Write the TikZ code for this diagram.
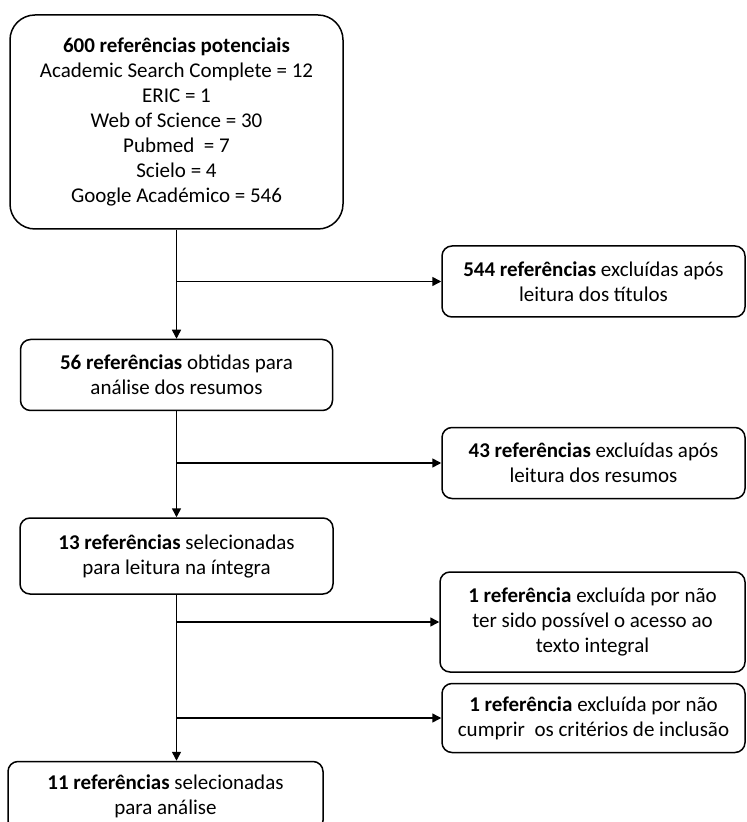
\documentclass[tikz,border=0pt]{standalone}
\usepackage{fontspec}
\setmainfont{Carlito}
\usetikzlibrary{arrows.meta,positioning}

\begin{document}
\begin{tikzpicture}[
    x=0.5pt, y=-0.5pt,
    box/.style={rectangle, draw, rounded corners=5pt, line width=0.75pt, align=center, inner sep=0pt, font=\fontsize{10.5}{12.5}\selectfont},
    flowarrow/.style={line width=0.75pt,-{Triangle[length=4.5pt,width=4.5pt]}}
]
\useasboundingbox (0,0) rectangle (747,822);
\fill[white] (0,0) rectangle (747,822);
\clip (0,0) rectangle (747,822);

% Identification
\node[box, rounded corners=12.5pt, minimum width=166.5pt, minimum height=107pt] (potenciais) at (176.5,122) {\textbf{600 referências potenciais}\\Academic Search Complete = 12\\ERIC = 1\\Web of Science = 30\\Pubmed\ \ = 7\\Scielo = 4\\Google Académico = 546};

% Screening
\node[box, below=54.5pt of potenciais, minimum width=156pt, minimum height=35.5pt] (resumos) {\textbf{56 referências} obtidas para\\análise dos resumos};
\node[box, below=53pt of resumos, minimum width=156.5pt, minimum height=38pt] (integra) {\textbf{13 referências} selecionadas\\para leitura na íntegra};
\node[box, below=83pt of integra, xshift=-5.5pt, minimum width=157.5pt, minimum height=34.5pt] (analise) {\textbf{11 referências} selecionadas\\para análise};

% Exclusions
\node[box, minimum width=151.5pt, minimum height=35.5pt] (titulos) at (593.5,281.5) {\textbf{544 referências} excluídas após\\leitura dos títulos};
\node[box, minimum width=151.5pt, minimum height=35.5pt] (exclresumos) at (593.5,463) {\textbf{43 referências} excluídas após\\leitura dos resumos};
\node[box, minimum width=152.5pt, minimum height=50pt] (semacesso) at (592.5,622) {\textbf{1 referência} excluída por não\\ter sido possível o acesso ao\\texto integral};
\node[box, minimum width=151.5pt, minimum height=34.5pt] (criterios) at (593.5,718) {\textbf{1 referência} excluída por não\\cumprir\ \ os critérios de inclusão};

% Arrows
\draw[flowarrow] (potenciais.south) -- (potenciais.south |- resumos.north);
\draw[flowarrow] (resumos.south) -- (resumos.south |- integra.north);
\draw[flowarrow] (integra.south) -- (integra.south |- analise.north);
\draw[flowarrow] (potenciais.south |- titulos.west) -- (titulos.west);
\draw[flowarrow] (resumos.south |- exclresumos.west) -- (exclresumos.west);
\draw[flowarrow] (integra.south |- semacesso.west) -- (semacesso.west);
\draw[flowarrow] (integra.south |- criterios.west) -- (criterios.west);

\end{tikzpicture}
\end{document}
